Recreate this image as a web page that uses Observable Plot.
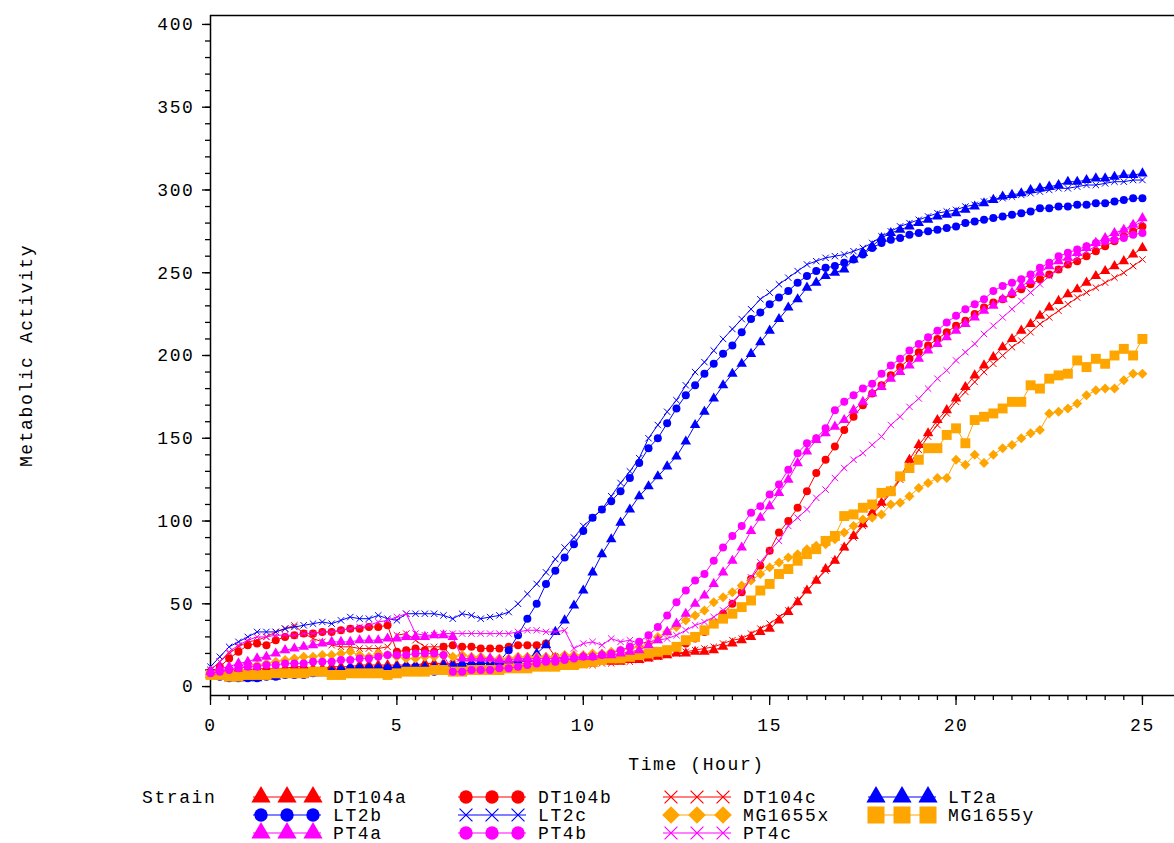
<!DOCTYPE html>
<html><head><meta charset="utf-8">
<script src="https://cdn.jsdelivr.net/npm/d3@7"></script>
<script src="https://cdn.jsdelivr.net/npm/@observablehq/plot@0.6"></script>
<style>
html,body{margin:0;padding:0;background:#fff;}
#chart svg,#legend svg{display:block;}
</style></head><body><div id="chart"></div><div id="legend"></div>
<script>
// sampling times (hours), every 15 minutes from 0 to 25
const hours = d3.range(0, 25.001, 0.25);

const DT104a = [8,8,9,10, 10,11,11,11, 11,12,12,11, 11,12,12,12, 13,13,13,13, 13,13,13,14, 14,14,14,14, 14,14,14,14, 14,14,14,14, 14,14,14,14, 14,14,15,15, 15,16,16,17, 18,19,20,20, 21,21,22,24, 26,28,30,33, 35,40,45,51, 58,64,71,76, 84,91,98,105, 111,118,126,137, 146,153,161,167, 174,181,188,194, 199,205,210,215, 219,224,229,233, 237,240,244,248, 251,254,257,261, 265];
const DT104b = [9,12,17,21, 25,26,25,28, 30,31,32,32, 33,33,34,35, 35,36,36,37, 21,22,23,22, 21,24,25,24, 24,23,23,23, 24,25,25,25, 26,18,16,15, 15,16,16,16, 17,17,18,19, 20,21,23,26, 29,33,38,44, 50,57,65,73, 82,93,100,108, 118,129,137,145, 155,163,170,177, 182,188,193,198, 202,206,210,214, 218,221,225,229, 232,234,237,240, 243,246,249,252, 255,257,260,263, 266,269,272,275, 278];
const DT104c = [10,15,20,24, 27,28,30,33, 35,37,32,29, 27,25,24,24, 23,23,23,24, 31,32,28,24, 24,24,17,16, 16,16,16,15, 15,15,15,15, 14,13,12,12, 13,13,14,14, 15,15,16,17, 18,19,20,21, 22,23,24,26, 28,29,32,35, 38,42,46,52, 58,64,70,76, 84,90,97,104, 110,117,125,134, 143,151,158,165, 172,178,184,190, 195,200,205,209, 214,219,223,227, 231,235,238,241, 244,247,250,254, 258];
const LT2a = [7,6,5,5, 5,5,6,6, 7,7,7,8, 8,9,10,11, 11,11,11,11, 12,12,12,12, 12,13,13,14, 14,14,14,15, 15,15,17,20, 25,33,40,49, 58,69,80,89, 99,107,115,121, 127,133,139,148, 158,166,174,182, 189,195,201,208, 215,222,229,234, 241,244,248,250, 252,258,262,266, 271,274,276,278, 280,282,284,285, 286,288,290,292, 294,296,297,298, 300,301,302,303, 305,305,306,307, 307,308,309,309, 310];
const LT2b = [8,6,5,5, 5,5,6,6, 7,7,7,8, 9,9,10,11, 11,11,11,11, 11,12,12,11, 9,10,11,12, 13,14,14,15, 22,31,41,50, 62,70,78,86, 94,102,107,112, 118,126,135,144, 150,159,168,176, 182,189,195,201, 206,214,222,226, 231,235,239,244, 248,251,253,254, 256,258,261,265, 268,270,271,273, 274,275,276,277, 278,280,281,282, 283,284,285,286, 287,289,289,290, 290,291,291,292, 292,293,294,295, 295];
const LT2c = [12,18,24,27, 30,33,33,33, 35,36,37,38, 39,38,40,42, 41,41,43,41, 40,44,44,44, 44,43,41,44, 43,41,42,43, 45,50,56,62, 69,77,84,90, 97,102,107,115, 123,130,138,150, 158,166,173,182, 190,196,203,210, 216,222,228,234, 238,243,247,251, 255,257,259,260, 261,263,265,268, 272,275,278,280, 282,284,286,287, 288,290,291,293, 294,295,296,297, 298,299,300,301, 301,302,303,303, 304,305,305,306, 306];
const MG1655x = [8,9,10,11, 12,13,14,15, 16,17,18,18, 19,19,20,21, 19,18,20,19, 18,17,17,18, 18,19,18,19, 18,18,17,17, 17,18,18,18, 18,18,19,19, 19,20,20,21, 22,23,24,26, 30,33,36,40, 43,46,51,54, 57,61,64,68, 72,75,78,80, 83,85,86,89, 93,97,101,102, 104,110,111,115, 120,123,126,126, 137,134,140,135, 140,144,146,150, 153,155,165,166, 168,171,176,179, 180,180,185,189, 189];
const MG1655y = [7,7,6,6, 7,7,7,8, 8,8,8,9, 9,7,7,8, 8,8,8,7, 8,9,9,9, 10,10,9,9, 10,10,10,10, 11,11,11,12, 12,12,13,13, 14,15,16,17, 17,18,19,20, 21,22,24,28, 30,34,38,41, 44,48,52,58, 62,68,71,76, 80,83,88,91, 103,104,108,110, 117,118,127,132, 137,144,144,152, 156,147,161,163, 165,168,172,172, 182,180,186,188, 189,197,193,198, 195,200,204,200, 210];
const PT4a = [9,11,12,14, 15,17,18,20, 22,23,24,25, 26,27,27,27, 28,28,28,29, 29,30,30,30, 31,31,30,17, 17,17,17,16, 16,17,17,17, 17,17,18,18, 18,18,19,19, 20,21,22,25, 28,33,38,44, 50,55,62,69, 76,84,94,102, 109,117,125,135, 142,149,153,157, 161,167,172,177, 181,186,190,194, 198,203,207,211, 215,219,223,227, 230,234,238,242, 245,250,254,257, 259,262,265,268, 271,274,276,279, 283];
const PT4b = [8,9,10,11, 12,12,13,13, 14,14,14,15, 15,15,16,16, 17,17,18,19, 19,19,20,20, 20,19,9,9, 10,10,10,11, 11,12,13,14, 15,15,16,17, 18,18,19,20, 22,24,27,31, 36,43,51,58, 64,68,76,84, 91,97,105,109, 116,122,131,141, 147,150,156,167, 172,176,180,183, 189,194,198,203, 207,211,215,220, 224,228,231,234, 239,242,244,246, 249,253,256,260, 262,264,266,268, 269,270,271,273, 274];
const PT4c = [10,15,21,25, 28,30,30,31, 31,31,32,32, 33,33,34,35, 36,37,39,40, 42,44,32,31, 31,32,32,32, 32,32,32,32, 32,33,34,34, 33,33,34,23, 26,27,25,29, 27,28,26,27, 28,29,31,34, 37,39,42,46, 51,57,66,75, 82,88,97,102, 107,114,119,126, 132,137,141,146, 151,158,163,169, 174,180,186,191, 197,202,207,213, 218,223,228,233, 238,243,248,252, 256,259,263,266, 269,272,275,278, 281];

const strains = ["DT104a","DT104b","DT104c","LT2a","LT2b","LT2c","MG1655x","MG1655y","PT4a","PT4b","PT4c"];
const seriesValues = {DT104a, DT104b, DT104c, LT2a, LT2b, LT2c, MG1655x, MG1655y, PT4a, PT4b, PT4c};
const yTicks = [0, 50, 100, 150, 200, 250, 300, 350, 400];
const xTicks = [0, 5, 10, 15, 20, 25];

// styles (kept apart from the data)
const RED = "#ff0000", BLUE = "#0000ff", MAG = "#ff00ff", ORA = "#ffa500";
const look = {
  DT104a: {color: RED, symbol: "triangle", r: 3.9, lsize: 160},
  DT104b: {color: RED, symbol: "circle", r: 4, lsize: 140},
  DT104c: {color: RED, symbol: "times", r: 3, lsize: 110},
  LT2a: {color: BLUE, symbol: "triangle", r: 3.9, lsize: 160},
  LT2b: {color: BLUE, symbol: "circle", r: 4, lsize: 140},
  LT2c: {color: BLUE, symbol: "times", r: 3, lsize: 110},
  MG1655x: {color: ORA, symbol: "diamond2", r: 4.5, lsize: 200},
  MG1655y: {color: ORA, symbol: "square", r: 5.6, lsize: 290},
  PT4a: {color: MAG, symbol: "triangle", r: 3.9, lsize: 160},
  PT4b: {color: MAG, symbol: "circle", r: 4, lsize: 140},
  PT4c: {color: MAG, symbol: "times", r: 3, lsize: 110}
};
const FONT = "'Liberation Mono', 'DejaVu Sans Mono', monospace";

const rows = strains.flatMap(s => seriesValues[s].map((v, i) => ({strain: s, hour: hours[i], value: v})));

const X0 = 0, X1 = 25.86, Y0 = -5.4, Y1 = 405.4;

const marks = [
  Plot.axisY(d3.range(0, 401, 10), {anchor: "left", tickSize: 5, tickFormat: () => "", label: null, strokeWidth: 1.3}),
  Plot.axisY(yTicks, {anchor: "left", tickSize: 8, tickPadding: 8, label: null, strokeWidth: 1.3}),
  Plot.axisX(d3.range(0, 25.01, 0.5), {anchor: "bottom", tickSize: 5, tickFormat: () => "", label: null, strokeWidth: 1.3}),
  Plot.axisX(xTicks, {anchor: "bottom", tickSize: 10, tickPadding: 13, label: null, strokeWidth: 1.3}),
  Plot.ruleX([X0], {stroke: "#000", strokeWidth: 1.5}),
  Plot.ruleY([Y0], {stroke: "#000", strokeWidth: 1.5}),
  Plot.ruleY([Y1], {stroke: "#000", strokeWidth: 1.5}),
  Plot.text(["Metabolic Activity"], {text: d => d, frameAnchor: "left", textAnchor: "middle", dx: -184, rotate: -90}),
  Plot.text(["Time (Hour)"], {text: d => d, frameAnchor: "bottom", textAnchor: "middle", dx: 4, dy: 74})
];
for (const s of strains) {
  const L = look[s];
  const data = rows.filter(d => d.strain === s);
  marks.push(Plot.line(data, {x: "hour", y: "value", stroke: L.color, strokeWidth: 1}));
  if (L.symbol === "times") {
    marks.push(Plot.dot(data, {x: "hour", y: "value", symbol: "times", r: L.r, stroke: L.color, strokeWidth: 1}));
  } else {
    marks.push(Plot.dot(data, {x: "hour", y: "value", symbol: L.symbol, r: L.r, fill: L.color, stroke: "none"}));
  }
}

const chart = Plot.plot({
  width: 1174, height: 780,
  marginLeft: 210, marginRight: 0, marginTop: 15, marginBottom: 85,
  x: {domain: [X0, X1]},
  y: {domain: [Y0, Y1]},
  style: {fontFamily: FONT, fontSize: "18px", letterSpacing: "1.6px", color: "#000", background: "#fff"},
  marks
});
document.getElementById("chart").appendChild(chart);

// legend
const symbolTypes = {triangle: d3.symbolTriangle, circle: d3.symbolCircle, times: d3.symbolTimes, diamond2: d3.symbolDiamond2, square: d3.symbolSquare};
const leg = d3.create("svg").attr("width", 1174).attr("height", 63)
  .style("font-family", FONT).style("font-size", "18px").style("letter-spacing", "1.6px").style("background", "#fff");
leg.append("text").attr("x", 142).attr("y", 17).attr("dy", "0.35em").text("Strain");
const colStart = [261, 466, 671, 876];
const rowY = [17, 35, 53];
const gap = 26;
strains.forEach((s, i) => {
  const L = look[s];
  const cx = colStart[i % 4], cy = rowY[Math.floor(i / 4)];
  leg.append("line").attr("x1", cx - 8).attr("x2", cx + 2 * gap + 8).attr("y1", cy).attr("y2", cy)
    .attr("stroke", L.color).attr("stroke-width", 1);
  const path = d3.symbol(symbolTypes[L.symbol], L.lsize)();
  for (let k = 0; k < 3; k++) {
    const p = leg.append("path").attr("d", path).attr("transform", `translate(${cx + k * gap},${cy})`);
    if (L.symbol === "times") p.attr("fill", "none").attr("stroke", L.color).attr("stroke-width", 1.2);
    else p.attr("fill", L.color);
  }
  leg.append("text").attr("x", cx + 72).attr("y", cy).attr("dy", "0.35em").text(s);
});
document.getElementById("legend").appendChild(leg.node());
</script></body></html>
